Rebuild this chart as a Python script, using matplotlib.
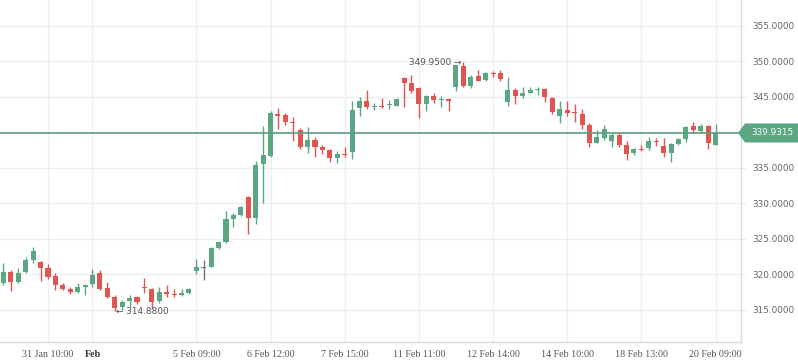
import matplotlib
matplotlib.use("Agg")
import matplotlib.pyplot as plt
from matplotlib.patches import Polygon
import matplotlib.transforms as mtransforms

# ---- data (OHLC per candle) ----
opens = [318.76, 320.35, 318.94, 320.40, 322.10, 321.76, 320.92, 319.79, 318.52, 317.96,
         317.58, 318.33, 318.70, 320.17, 318.10, 316.83, 315.47, 316.27, 316.87, 318.28,
         317.96, 316.27, 317.54, 317.25, 317.11, 317.44, 320.54, 321.01, 321.10, 323.78,
         324.62, 327.86, 328.42, 330.96, 327.92, 335.63, 336.69, 342.51, 342.51, 341.48,
         340.35, 338.00, 338.94, 337.96, 337.58, 336.45, 336.97, 337.30, 343.41, 344.44,
         343.63, 343.73, 343.83, 343.77, 347.68, 346.93, 346.23, 343.97, 345.14, 344.58,
         344.72, 346.45, 349.37, 346.55, 347.96, 347.39, 348.34, 348.34, 344.34, 345.99,
         345.18, 345.61, 345.99, 346.13, 344.86, 342.32, 343.17, 342.89, 342.61, 341.06,
         338.56, 339.27, 338.85, 339.65, 338.28, 337.15, 337.68, 337.86, 338.80, 338.10,
         337.15, 338.38, 339.08, 340.92, 340.21, 340.92, 338.28]
highs = [321.66, 320.63, 320.90, 322.46, 323.92, 321.86, 321.48, 320.17, 318.85, 318.28,
         318.80, 318.66, 320.73, 320.63, 318.94, 317.11, 316.41, 317.11, 317.01, 319.55,
         318.14, 318.28, 318.52, 317.92, 317.92, 318.14, 322.18, 322.04, 323.92, 324.76,
         328.94, 328.70, 329.65, 331.00, 336.03, 340.92, 343.07, 343.45, 342.79, 342.14,
         340.68, 340.73, 339.32, 338.24, 337.68, 337.44, 338.00, 344.48, 345.04, 345.99,
         344.11, 344.82, 344.58, 344.82, 347.86, 348.10, 346.37, 345.28, 345.52, 345.14,
         344.82, 349.51, 349.95, 348.10, 348.80, 348.48, 348.70, 348.80, 347.86, 346.27,
         346.45, 346.45, 346.37, 346.27, 345.04, 344.44, 344.44, 344.06, 343.31, 341.30,
         340.35, 341.06, 339.89, 339.89, 338.80, 337.86, 338.24, 339.41, 339.27, 339.18,
         338.56, 339.18, 340.92, 341.44, 341.16, 341.06, 341.20]
lows = [318.56, 317.68, 318.80, 320.20, 321.66, 319.13, 319.32, 317.82, 317.82, 317.25,
        317.46, 317.07, 318.28, 317.82, 316.73, 314.88, 315.00, 315.47, 315.80, 317.44,
        315.10, 316.03, 316.87, 316.79, 317.01, 317.21, 320.07, 319.23, 321.01, 323.63,
        324.48, 326.73, 328.28, 325.70, 327.11, 330.00, 336.60, 340.54, 341.10, 338.85,
        337.63, 337.15, 336.59, 336.97, 335.85, 335.75, 336.59, 336.31, 342.37, 343.27,
        343.17, 343.41, 343.27, 343.77, 343.63, 345.61, 342.08, 343.03, 344.20, 343.63,
        343.03, 345.89, 346.45, 346.31, 347.30, 347.30, 347.86, 347.30, 343.77, 344.01,
        344.90, 345.52, 345.28, 344.25, 342.61, 341.38, 342.37, 341.44, 340.54, 338.00,
        338.48, 338.94, 338.00, 337.92, 336.13, 336.87, 337.35, 337.54, 338.10, 336.51,
        335.89, 338.24, 338.62, 339.89, 339.89, 337.68, 338.28]
closes = [320.35, 318.94, 320.20, 322.04, 323.31, 320.96, 319.69, 318.56, 318.00, 317.54,
          318.24, 318.43, 319.93, 317.96, 316.87, 315.32, 316.17, 316.73, 316.17, 318.06,
          316.17, 317.49, 317.25, 317.07, 317.39, 317.92, 321.10, 321.01, 323.69, 324.54,
          327.82, 328.34, 329.51, 328.00, 335.42, 336.83, 342.68, 342.42, 341.48, 341.38,
          338.00, 338.94, 338.00, 337.58, 336.45, 336.97, 336.88, 343.17, 344.44, 343.63,
          343.73, 343.59, 343.97, 344.72, 347.01, 345.89, 343.97, 345.14, 344.58, 344.72,
          344.44, 349.51, 346.59, 347.86, 347.30, 348.34, 348.20, 347.54, 345.99, 345.18,
          345.61, 345.99, 346.10, 345.04, 342.93, 343.31, 342.70, 342.79, 341.10, 338.56,
          339.32, 340.45, 339.65, 338.28, 337.01, 337.68, 337.58, 338.80, 338.70, 337.07,
          338.38, 339.08, 340.73, 340.35, 340.92, 338.48, 339.93]

tick_idx = [6, 12, 26, 36, 46, 56, 66, 76, 86, 96]
tick_labels = ['31 Jan 10:00', 'Feb', '5 Feb 09:00', '6 Feb 12:00', '7 Feb 15:00',
               '11 Feb 11:00', '12 Feb 14:00', '14 Feb 10:00', '18 Feb 13:00', '20 Feb 09:00']
y_ticks = [315, 320, 325, 330, 335, 340, 345, 350, 355]
last_price = 339.9315
max_label = 349.95
min_label = 314.88
max_idx = 62
min_idx = 15

GREEN = '#5ba683'
RED = '#e0554f'
GRAY = '#777777'
GRID = '#eceef0'
SPINE = '#d6dbdb'

W, H = 798, 363
fig = plt.figure(figsize=(W / 100, H / 100), dpi=100)
ax = fig.add_axes([0, 21 / H, 741 / W, 1 - 21 / H])

ax.set_xlim(-0.47, 99.43)
ax.set_ylim(310.49, 358.66)

# grid
for yt in y_ticks:
    ax.axhline(yt, color=GRID, lw=1.0, zorder=0)
for xt in tick_idx:
    ax.axvline(xt, color=GRID, lw=1.0, zorder=0)

# candles
n = len(opens)
min_h = 0.16
for i in range(n):
    o, h, l, c = opens[i], highs[i], lows[i], closes[i]
    if c > o:
        col = GREEN
    elif c < o:
        col = RED
    else:
        col = GRAY
    ax.vlines(i, l, h, color=col, lw=1.0, zorder=2)
    bot = min(o, c)
    ht = abs(c - o)
    if ht < min_h:
        bot = (o + c) / 2 - min_h / 2
        ht = min_h
    ax.bar(i, ht, bottom=bot, width=0.68, color=col, linewidth=0, zorder=3)

# last price line
ax.axhline(last_price, color='#5f9c81', lw=1.2, zorder=4)

# spines and ticks
for s in ['top', 'left']:
    ax.spines[s].set_visible(False)
ax.spines['right'].set_color(SPINE)
ax.spines['bottom'].set_color(SPINE)
ax.spines['right'].set_linewidth(1.0)
ax.spines['bottom'].set_linewidth(1.0)

ax.yaxis.tick_right()
ax.set_yticks(y_ticks)
ax.set_yticklabels([f'{v:.4f}' for v in y_ticks])
ax.tick_params(axis='y', which='both', length=3.5, color=GRID, pad=4.5,
               labelsize=6.4, labelcolor='#666666')
for lab in ax.get_yticklabels():
    lab.set_family('DejaVu Sans')

ax.set_xticks(tick_idx)
ax.set_xticklabels(tick_labels)
ax.tick_params(axis='x', length=0, pad=5.5, labelsize=7.2, labelcolor='#555555')
for lab in ax.get_xticklabels():
    lab.set_family('Liberation Serif')
    if lab.get_text() == 'Feb':
        lab.set_fontweight('bold')
        lab.set_color('#333333')

# high / low annotations
ax.text(max_idx - 0.25, max_label - 0.16, f'{max_label:.4f} \u2192', ha='right', va='center',
        fontsize=6.4, color='#555555', family='DejaVu Sans', zorder=5)
ax.text(min_idx + 0.2, min_label - 0.12, f'\u2190 {min_label:.4f}', ha='left', va='center',
        fontsize=6.4, color='#555555', family='DejaVu Sans', zorder=5)

# last price label box
trans = mtransforms.blended_transform_factory(fig.transFigure, ax.transData)
hh = 1.34
poly = Polygon([(738 / W, last_price), (745 / W, last_price + hh), (1.0, last_price + hh),
                (1.0, last_price - hh), (745 / W, last_price - hh)],
               closed=True, transform=trans, facecolor=GREEN, edgecolor='none',
               clip_on=False, zorder=6)
fig.add_artist(poly)
fig.text(751 / W, 0, f'{last_price:.4f}', transform=trans, ha='left', va='center',
         fontsize=6.4, color='white', family='DejaVu Sans', zorder=7)
fig.texts[-1].set_position((751 / W, last_price))

fig.savefig('out.png', dpi=100)
